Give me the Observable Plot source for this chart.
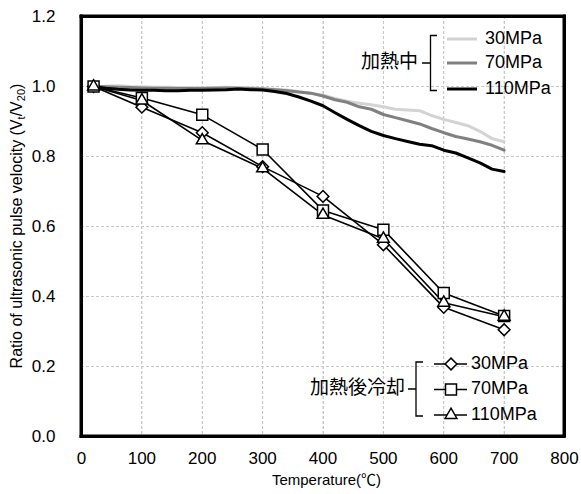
<!DOCTYPE html>
<html>
<head>
<meta charset="utf-8">
<script src="https://cdn.jsdelivr.net/npm/d3@7"></script>
<script src="https://cdn.jsdelivr.net/npm/@observablehq/plot@0.6"></script>
<style>
  html, body { margin: 0; padding: 0; background: #fff; }
  #chart svg { display: block; }
</style>
</head>
<body>
<div id="chart"></div>
<script>
// ---- Data ----
const heatTemps = [20,40,60,80,100,120,140,160,180,200,220,240,260,280,300,320,340,360,380,400,420,440,460,480,500,520,540,560,580,600,620,640,660,680,700];
const heat30 = [1.000,1.001,1.002,1.000,0.999,0.998,0.998,0.997,0.997,0.996,0.997,0.998,0.997,0.996,0.994,0.992,0.990,0.986,0.980,0.975,0.966,0.958,0.952,0.948,0.942,0.935,0.933,0.931,0.917,0.906,0.897,0.888,0.872,0.851,0.842];
const heat70 = [1.000,0.999,0.998,0.997,0.996,0.995,0.995,0.994,0.994,0.994,0.995,0.996,0.995,0.994,0.993,0.991,0.988,0.984,0.981,0.973,0.962,0.955,0.942,0.935,0.920,0.911,0.902,0.893,0.880,0.868,0.857,0.850,0.842,0.832,0.818];
const heat110 = [1.000,0.995,0.992,0.990,0.989,0.989,0.988,0.988,0.989,0.989,0.990,0.991,0.993,0.991,0.990,0.986,0.980,0.970,0.958,0.945,0.925,0.906,0.888,0.872,0.860,0.851,0.843,0.835,0.831,0.818,0.810,0.796,0.782,0.764,0.757];

const coolTemps = [20,100,200,300,400,500,600,700];
const cool30 = [1.000,0.941,0.868,0.771,0.686,0.548,0.369,0.305];
const cool70 = [1.000,0.967,0.919,0.820,0.646,0.591,0.410,0.344];
const cool110 = [1.000,0.960,0.846,0.766,0.633,0.565,0.382,0.342];

const xTicks = [0,100,200,300,400,500,600,700,800];
const yTicks = [0,0.2,0.4,0.6,0.8,1.0,1.2];

const pressures = ["30MPa","70MPa","110MPa"];
const heatColors = ["#d3d3d3","#808080","#000000"];
const coolSymbols = ["diamond2","square","triangle"];
const coolR = [5.3,6.2,4.4];

const heatGroupLabel = "加熱中";
const coolGroupLabel = "加熱後冷却";
const xLabel = "Temperature(℃)";

// ---- Build tables ----
const heatSeries = [heat30, heat70, heat110];
const coolSeries = [cool30, cool70, cool110];
const heatData = heatSeries.flatMap((vals, i) => vals.map((v, j) => ({T: heatTemps[j], v, p: pressures[i]})));
const coolData = coolSeries.flatMap((vals, i) => vals.map((v, j) => ({T: coolTemps[j], v, p: pressures[i]})));

const latin = "'Liberation Sans', Arial, Helvetica, sans-serif";
const cjk = "'Liberation Sans', 'Noto Sans CJK JP', sans-serif";

const W = 581, H = 494;
const mL = 81, mR = 17, mT = 16, mB = 58;

const plotEl = Plot.plot({
  width: W,
  height: H,
  marginLeft: mL,
  marginRight: mR,
  marginTop: mT,
  marginBottom: mB,
  style: {fontFamily: latin, fontSize: "17px", color: "#000", background: "#fff"},
  x: {domain: [0, 800], ticks: xTicks},
  y: {domain: [0, 1.2], ticks: yTicks},
  color: {domain: pressures, range: heatColors},
  marks: [
    Plot.gridX(xTicks.slice(1, -1), {stroke: "#c8c8c8", strokeOpacity: 1, strokeDasharray: "3,2"}),
    Plot.gridY(yTicks.slice(1, -1), {stroke: "#c8c8c8", strokeOpacity: 1, strokeDasharray: "3,2"}),
    Plot.axisX(xTicks, {tickSize: 0, tickPadding: 15, label: null}),
    Plot.axisY(yTicks, {tickSize: 0, tickPadding: 26, tickFormat: d3.format(".1f"), label: null}),
    Plot.line(heatData, {x: "T", y: "v", z: "p", stroke: "p", strokeWidth: 3}),
    Plot.line(coolData, {x: "T", y: "v", z: "p", stroke: "black", strokeWidth: 1.6}),
    Plot.dot(coolData.filter(d => d.p === pressures[0]), {x: "T", y: "v", symbol: "diamond2", r: coolR[0], fill: "white", stroke: "black", strokeWidth: 1.5}),
    Plot.dot(coolData.filter(d => d.p === pressures[1]), {x: "T", y: "v", symbol: "square", r: coolR[1], fill: "white", stroke: "black", strokeWidth: 1.5}),
    Plot.dot(coolData.filter(d => d.p === pressures[2]), {x: "T", y: "v", symbol: "triangle", r: coolR[2], fill: "white", stroke: "black", strokeWidth: 1.5}),
    Plot.ruleX([0, 800], {stroke: "black", strokeWidth: 3, strokeLinecap: "square"}),
    Plot.ruleY([0, 1.2], {stroke: "black", strokeWidth: 3, strokeLinecap: "square"})
  ]
});

document.getElementById("chart").appendChild(plotEl);

const svg = d3.select(plotEl);
const sx = plotEl.scale("x"), sy = plotEl.scale("y");
const x0 = sx.apply(0), x1 = sx.apply(800), yTop = sy.apply(1.2), yBot = sy.apply(0);

// Grid drawn from the plot's own scales, placed beneath the data lines
const firstLine = plotEl.querySelector("g[aria-label='line']");
const gridG = d3.select(plotEl.insertBefore(document.createElementNS("http://www.w3.org/2000/svg", "g"), firstLine))
  .attr("stroke", "#c8c8c8").attr("stroke-width", 1).attr("stroke-dasharray", "3,2");
xTicks.slice(1, -1).forEach(t => {
  const px = Math.round(sx.apply(t)) + 0.5;
  gridG.append("line").attr("x1", px).attr("x2", px).attr("y1", yTop).attr("y2", yBot);
});
yTicks.slice(1, -1).forEach(t => {
  const py = Math.round(sy.apply(t)) + 0.5;
  gridG.append("line").attr("x1", x0).attr("x2", x1).attr("y1", py).attr("y2", py);
});

const over = svg.append("g").attr("class", "annot");

// Frame from scales
over.append("rect").attr("x", x0).attr("y", yTop).attr("width", x1 - x0).attr("height", yBot - yTop)
  .attr("fill", "none").attr("stroke", "black").attr("stroke-width", 3);

// X axis label
over.append("text")
  .attr("x", (mL + (W - mR)) / 2 + 4)
  .attr("y", 481)
  .attr("text-anchor", "middle")
  .attr("dominant-baseline", "middle")
  .attr("font-family", cjk)
  .attr("font-size", 15)
  .text(xLabel);

// Y axis label with subscripts
const yl = over.append("text")
  .attr("transform", `translate(18,${(mT + H - mB) / 2}) rotate(-90)`)
  .attr("text-anchor", "middle")
  .attr("dominant-baseline", "middle")
  .attr("font-family", latin)
  .attr("font-size", 16);
yl.append("tspan").text("Ratio of ultrasonic pulse velocity (V");
yl.append("tspan").attr("font-size", 11).attr("dy", 4).text("t");
yl.append("tspan").attr("dy", -4).text("/V");
yl.append("tspan").attr("font-size", 11).attr("dy", 4).text("20");
yl.append("tspan").attr("dy", -4).text(")");

// Heating legend
over.append("path").attr("d", "M437,35.5H430.5V90.5H437M422,63H430.5")
  .attr("fill", "none").attr("stroke", "black").attr("stroke-width", 1.3);
over.append("text").attr("x", 418).attr("y", 63)
  .attr("text-anchor", "end").attr("dominant-baseline", "middle")
  .attr("font-family", cjk).attr("font-size", 19).text(heatGroupLabel);
const rows1 = [39, 63, 89];
pressures.forEach((p, i) => {
  over.append("line").attr("x1", 447).attr("x2", 477).attr("y1", rows1[i]).attr("y2", rows1[i])
    .attr("stroke", heatColors[i]).attr("stroke-width", 3);
  over.append("text").attr("x", 485).attr("y", rows1[i]).attr("text-anchor", "start")
    .attr("dominant-baseline", "middle").attr("font-family", latin).attr("font-size", 18).text(p);
});

// Cooling legend
over.append("path").attr("d", "M423,362H416V416H423M408,389H416")
  .attr("fill", "none").attr("stroke", "black").attr("stroke-width", 1.3);
over.append("text").attr("x", 405).attr("y", 389)
  .attr("text-anchor", "end").attr("dominant-baseline", "middle")
  .attr("font-family", cjk).attr("font-size", 19).text(coolGroupLabel);
const rows2 = [364, 389.5, 415];
const d3Sym = [d3.symbolDiamond2, d3.symbolSquare, d3.symbolTriangle];
pressures.forEach((p, i) => {
  over.append("line").attr("x1", 434).attr("x2", 467).attr("y1", rows2[i]).attr("y2", rows2[i])
    .attr("stroke", "black").attr("stroke-width", 1.6);
  over.append("path").attr("transform", `translate(451,${rows2[i]})`)
    .attr("d", d3.symbol(d3Sym[i], Math.PI * coolR[i] * coolR[i])())
    .attr("fill", "white").attr("stroke", "black").attr("stroke-width", 1.5);
  over.append("text").attr("x", 471).attr("y", rows2[i]).attr("text-anchor", "start")
    .attr("dominant-baseline", "middle").attr("font-family", latin).attr("font-size", 18).text(p);
});
</script>
</body>
</html>
